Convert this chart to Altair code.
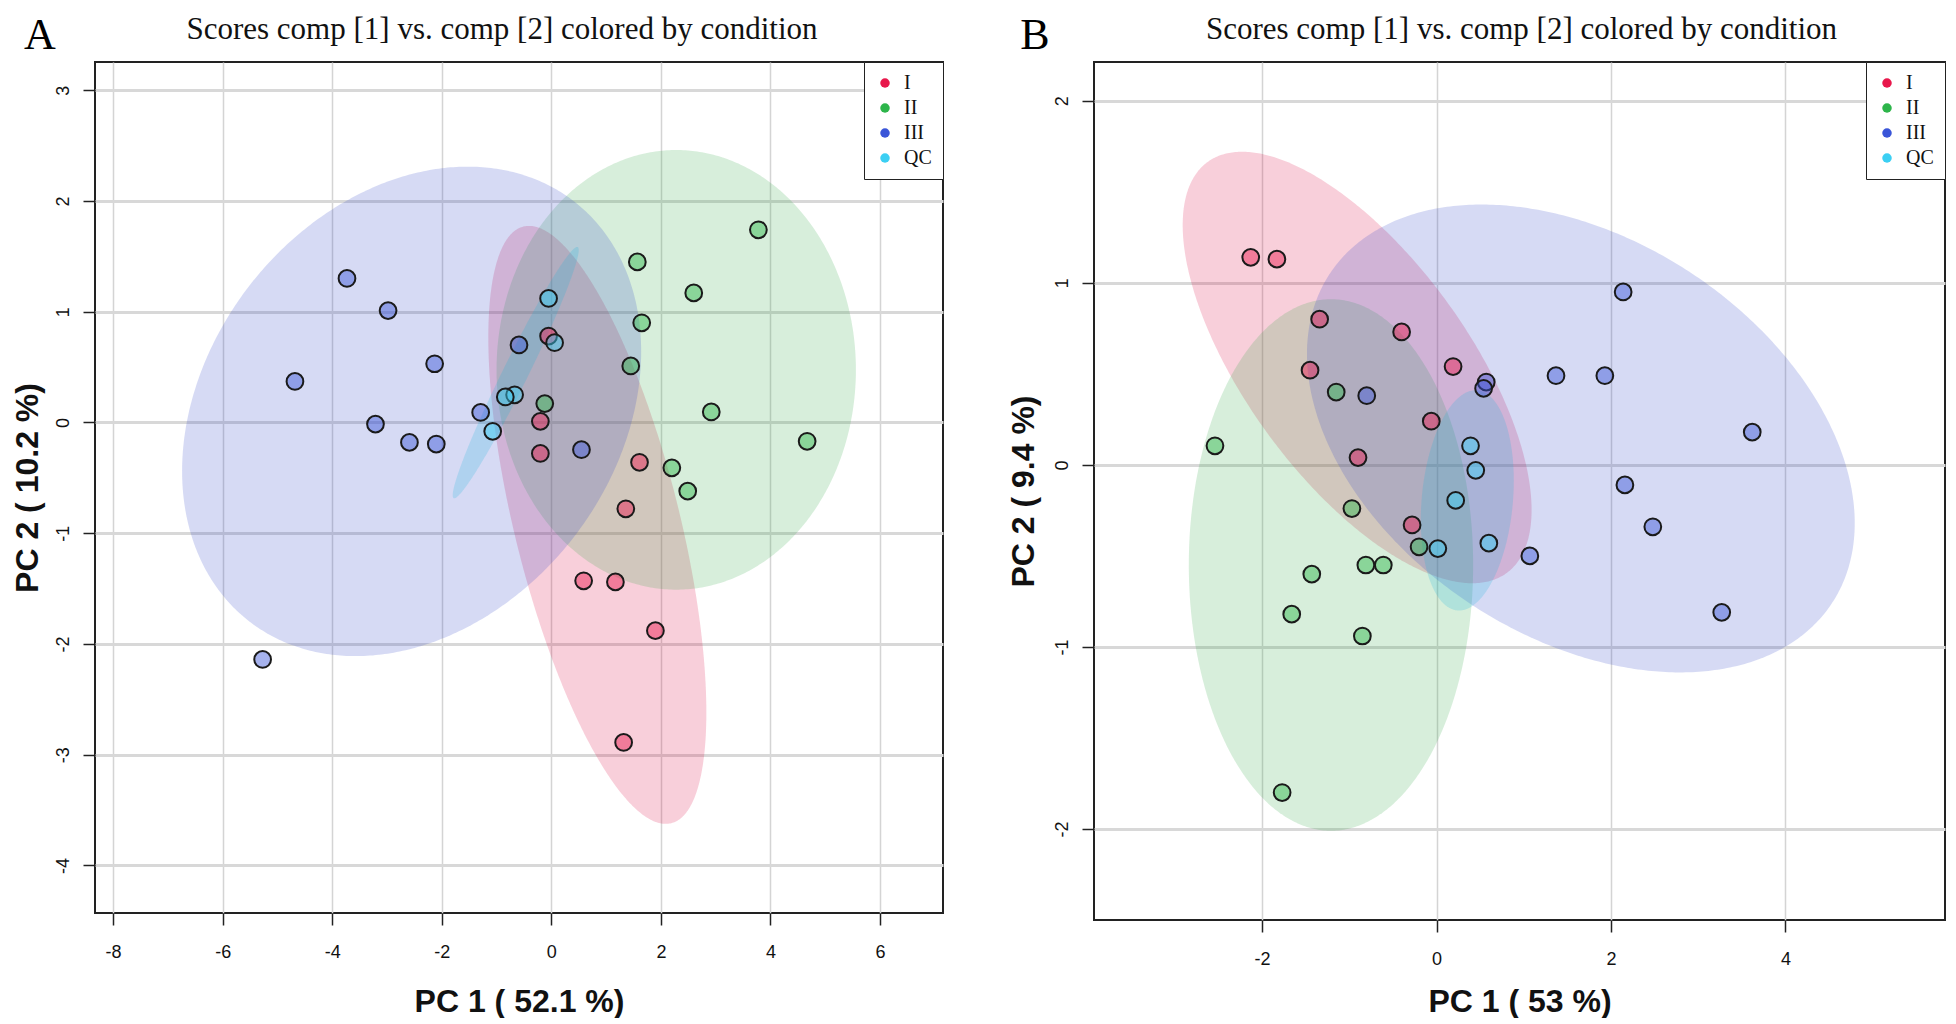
import altair as alt
import numpy as np
import pandas as pd

groups = ["I", "II", "III", "QC"]
point_colors = ["#E8174B", "#2DB54A", "#3A55D8", "#3BCFF3"]
ellipse_colors = ["#DC0E44", "#35AA4C", "#3348C8", "#14B4DC"]
plot_title = "Scores comp [1] vs. comp [2] colored by condition"

# ---------------- Panel A scores ----------------
a_I_pc1 = [-0.05, -0.20, -0.20, 1.61, 1.36, 0.59, 1.17, 1.90, 1.32]
a_I_pc2 = [0.78, 0.01, -0.28, -0.36, -0.78, -1.43, -1.44, -1.88, -2.89]
a_II_pc1 = [3.78, 1.57, 2.60, 1.65, 1.45, -0.12, 2.92, 4.67, 2.20, 2.49]
a_II_pc2 = [1.74, 1.45, 1.17, 0.90, 0.51, 0.17, 0.095, -0.17, -0.41, -0.62]
a_III_pc1 = [-3.73, -2.98, -2.13, -4.68, -3.21, -2.59, -2.10, -1.29, -0.59, 0.55, -5.27]
a_III_pc2 = [1.30, 1.01, 0.53, 0.37, -0.015, -0.18, -0.195, 0.09, 0.70, -0.246, -2.14]
a_QC_pc1 = [-0.05, 0.06, -0.67, -0.84, -1.07]
a_QC_pc2 = [1.12, 0.72, 0.25, 0.23, -0.08]

# Panel A confidence ellipses (order I, II, III, QC): centre, half-extents, correlation
a_ell_cx = [0.84, 2.28, -2.55, -0.65]
a_ell_cy = [-0.925, 0.475, 0.10, 0.45]
a_ell_sx = [1.99, 3.28, 4.19, 1.15]
a_ell_sy = [2.70, 1.985, 2.21, 1.135]
a_ell_r = [-0.627, 0.0, 0.244, 0.975]

# ---------------- Panel B scores ----------------
b_I_pc1 = [-2.13, -1.83, -1.34, -0.40, -1.45, 0.19, -0.06, -0.90, -0.28]
b_I_pc2 = [1.14, 1.13, 0.80, 0.73, 0.52, 0.54, 0.24, 0.04, -0.33]
b_II_pc1 = [-1.15, -2.54, -0.97, -0.20, -0.81, -0.61, -1.43, -1.66, -0.85, -1.77]
b_II_pc2 = [0.40, 0.105, -0.24, -0.45, -0.55, -0.55, -0.60, -0.82, -0.94, -1.80]
b_III_pc1 = [2.14, 1.37, 1.93, 0.57, 0.54, -0.80, 3.62, 2.16, 2.48, 1.07, 3.27]
b_III_pc2 = [0.95, 0.49, 0.49, 0.455, 0.42, 0.38, 0.18, -0.11, -0.34, -0.50, -0.81]
b_QC_pc1 = [0.39, 0.45, 0.22, 0.60, 0.015]
b_QC_pc2 = [0.105, -0.03, -0.195, -0.43, -0.46]

b_ell_cx = [-0.91, -1.21, 1.655, 0.353]
b_ell_cy = [0.535, -0.55, 0.145, -0.195]
b_ell_sx = [2.0, 1.63, 3.14, 0.533]
b_ell_sy = [1.185, 1.46, 1.285, 0.605]
b_ell_r = [-0.66, 0.0, -0.362, 0.178]

# axis ranges and ticks
a_xdom = [-8.33, 7.15]
a_ydom = [-4.43, 3.255]
a_xticks = [-8, -6, -4, -2, 0, 2, 4, 6]
a_yticks = [-4, -3, -2, -1, 0, 1, 2, 3]
b_xdom = [-3.927, 5.83]
b_ydom = [-2.5, 2.213]
b_xticks = [-2, 0, 2, 4]
b_yticks = [-2, -1, 0, 1, 2]


def points_table(pc1s, pc2s):
    rows = []
    for g, xs, ys in zip(groups, pc1s, pc2s):
        for x, y in zip(xs, ys):
            rows.append({"pc1": x, "pc2": y, "group": g})
    return pd.DataFrame(rows)


def ellipse_table(cx, cy, sx, sy, r, n=241):
    t = np.linspace(np.pi, 0.0, n)
    c = np.cos(t)
    s = np.sin(t)
    mid = cy + r * sy * c
    half = sy * np.sqrt(1.0 - r * r) * s
    return pd.DataFrame({"ex": cx + sx * c, "ey_lo": mid - half, "ey_hi": mid + half})


def panel(letter, pts, ell, xdom, ydom, xticks, yticks, xtitle, ytitle,
          w, h, title_dx, x_title_y, y_title_x, letter_x):
    def xenc(field):
        return alt.X(field, type="quantitative",
                     scale=alt.Scale(domain=xdom, nice=False, zero=False),
                     axis=alt.Axis(values=xticks, title=xtitle, titleY=x_title_y,
                                   labelExpr="'' + datum.value", labelOverlap=False))

    def yenc(field):
        return alt.Y(field, type="quantitative",
                     scale=alt.Scale(domain=ydom, nice=False, zero=False),
                     axis=alt.Axis(values=yticks, title=ytitle, titleX=y_title_x,
                                   labelExpr="'' + datum.value", labelOverlap=False))

    layers = []
    for i, g in enumerate(groups):
        df = ellipse_table(ell[0][i], ell[1][i], ell[2][i], ell[3][i], ell[4][i])
        layers.append(
            alt.Chart(df).mark_area(fill=ellipse_colors[i], fillOpacity=0.2, strokeWidth=0).encode(
                x=xenc("ex"), y=yenc("ey_lo"), y2="ey_hi:Q"
            )
        )
    legend = alt.Legend(orient="top-right", offset=0, padding=11, title=None,
                        labelFont="Liberation Serif", labelFontSize=20, labelColor="#111",
                        symbolType="circle", symbolSize=90, symbolStrokeWidth=0,
                        symbolOpacity=1, rowPadding=5, labelOffset=9,
                        strokeColor="#222", fillColor="white", cornerRadius=0)
    layers.append(
        alt.Chart(pts).mark_circle(opacity=1).encode(
            x=xenc("pc1"), y=yenc("pc2"),
            fill=alt.Fill("group:N", scale=alt.Scale(domain=groups, range=point_colors), legend=legend),
            fillOpacity=alt.value(0.45),
            stroke=alt.value("#1a1a1a"),
            strokeWidth=alt.value(2),
            size=alt.value(280),
        )
    )
    # panel letter
    layers.append(
        alt.Chart(alt.Data(values=[{"t": letter}])).mark_text(
            font="Liberation Serif", fontSize=44, align="center", baseline="top", color="#000"
        ).encode(x=alt.value(letter_x), y=alt.value(-48.5), text="t:N")
    )
    # panel title
    layers.append(
        alt.Chart(alt.Data(values=[{"t": plot_title}])).mark_text(
            font="Liberation Serif", fontSize=31, align="center", baseline="middle", color="#111"
        ).encode(x=alt.value(w / 2 + title_dx), y=alt.value(-32), text="t:N")
    )
    return alt.layer(*layers).properties(width=w, height=h)


pts_a = points_table([a_I_pc1, a_II_pc1, a_III_pc1, a_QC_pc1], [a_I_pc2, a_II_pc2, a_III_pc2, a_QC_pc2])
pts_b = points_table([b_I_pc1, b_II_pc1, b_III_pc1, b_QC_pc1], [b_I_pc2, b_II_pc2, b_III_pc2, b_QC_pc2])

chart_a = panel("A", pts_a, (a_ell_cx, a_ell_cy, a_ell_sx, a_ell_sy, a_ell_r),
                a_xdom, a_ydom, a_xticks, a_yticks, "PC 1 ( 52.1 %)", "PC 2 ( 10.2 %)",
                848, 851, -17, 88, -68, -55)
chart_b = panel("B", pts_b, (b_ell_cx, b_ell_cy, b_ell_sx, b_ell_sy, b_ell_r),
                b_xdom, b_ydom, b_xticks, b_yticks, "PC 1 ( 53 %)", "PC 2 ( 9.4 %)",
                851, 858, 2, 81, -71, -59)

chart = alt.hconcat(chart_a, chart_b, spacing=151, bounds="flush").resolve_scale(
    fill="independent"
).resolve_legend(fill="independent").properties(
    padding={"left": 2, "top": 4, "right": 0, "bottom": 0}
).configure_view(
    stroke="#222", strokeWidth=2
).configure_axis(
    grid=True, domain=False, tickSize=12, tickWidth=1.5, tickColor="#222",
    labelFont="Liberation Sans", labelFontSize=18, labelColor="#111",
    titleFont="Liberation Sans", titleFontSize=32, titleFontWeight="bold", titleColor="#111",
).configure_axisX(
    gridColor="#D4D4D4", gridWidth=1.5, labelPadding=18, labelAngle=0, titleBaseline="middle"
).configure_axisY(
    gridColor="#D8D8D8", gridWidth=2.8, labelAngle=270, labelAlign="center",
    labelBaseline="bottom", labelPadding=11, titleAngle=270, titleBaseline="middle",
    titleAlign="center"
)

chart.save("out.html", embed_options={"renderer": "svg", "actions": False})
